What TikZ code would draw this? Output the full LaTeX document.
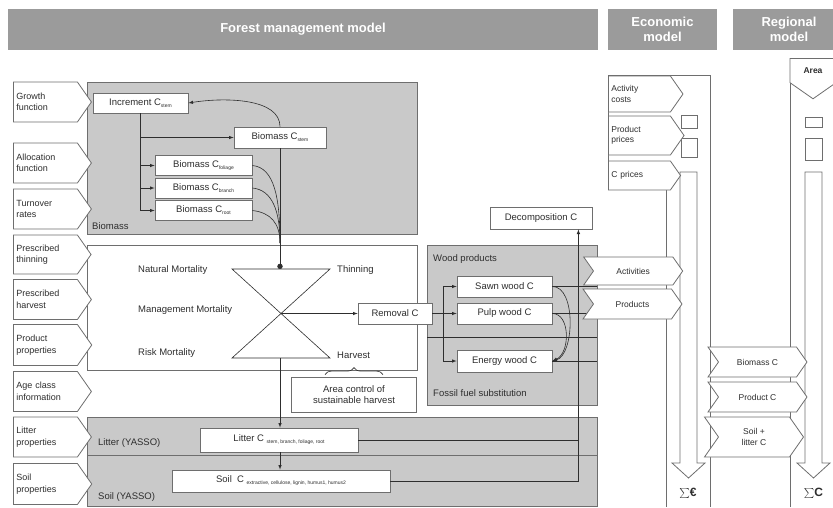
\documentclass[tikz,border=0pt]{standalone}
\usepackage{fontspec}
\setmainfont{Liberation Sans}
\usepackage{tikz}
\usetikzlibrary{shapes.symbols, arrows, positioning, calc, decorations.pathreplacing}

\definecolor{bargray}{HTML}{9B9B9B}
\definecolor{panelgray}{HTML}{C9C9C9}
\definecolor{rimgray}{HTML}{6E6E6E}
\definecolor{inkgray}{HTML}{2E2E2E}

\newcommand{\csub}[1]{\raisebox{-2pt}{\fontsize{5}{6}\selectfont #1}}

\tikzset{
  bar/.style={fill=bargray, text=white, font=\fontsize{13}{15}\selectfont\bfseries, align=center, inner sep=0pt},
  panel/.style={fill=panelgray, draw=rimgray, line width=0.8pt},
  cbox/.style={draw=rimgray, fill=white, line width=0.8pt, inner sep=2pt, text=inkgray, font=\fontsize{9.5}{11}\selectfont},
  inbox/.style={signal, signal to=east, signal pointer angle=110, draw=rimgray, fill=white, line width=0.8pt, text=inkgray, font=\fontsize{9}{11.5}\selectfont, align=left, inner sep=3pt},
  chev/.style={inbox, signal from=west, align=center},
  flow/.style={draw=inkgray, line width=0.6pt},
  tag/.style={text=inkgray, font=\fontsize{9.5}{11}\selectfont, inner sep=1pt},
}

\begin{document}
\begin{tikzpicture}[x=1pt, y=-1pt]
\useasboundingbox (0,0) rectangle (833,507);

% title bars
\node[bar, minimum width=590pt, minimum height=41pt] (fmm) at (303,29.5) {Forest management model};
\node[bar, minimum width=109pt, minimum height=41pt] (eco) at (662.5,29.5) {Economic\\model};
\node[bar, minimum width=112pt, minimum height=41pt] (reg) at (789,29.5) {Regional\\model};

% panels of the forest model
\draw[panel] (87,82) rectangle (417,234);
\node[tag, anchor=south west] (biolab) at (91,231) {Biomass};
\draw[draw=rimgray, fill=white, line width=0.8pt] (87,245) rectangle (417,370);
\draw[panel] (427,245) rectangle (597,405);
\draw[flow] (427,337) -- (597,337);
\node[tag, anchor=west] (woodlab) at (432,259) {Wood products};
\node[tag, anchor=west] (fosslab) at (432,393) {Fossil fuel substitution};
\draw[panel] (87,417) rectangle (597,455);
\draw[panel] (87,455) rectangle (597,506);
\node[tag, anchor=west] (litlab) at (97,443) {Litter (YASSO)};
\node[tag, anchor=west] (soillab) at (97,497) {Soil (YASSO)};

% inputs on the left
\node[inbox, anchor=west, text width=58pt, minimum height=40pt] (growth) at (13,102) {Growth\\function};
\node[inbox, anchor=west, text width=58pt, minimum height=40pt] (alloc) at (13,163) {Allocation\\function};
\node[inbox, anchor=west, text width=58pt, minimum height=40pt] (turn) at (13,209) {Turnover\\rates};
\node[inbox, anchor=west, text width=58pt, minimum height=39pt] (thin) at (13,254.5) {Prescribed\\thinning};
\node[inbox, anchor=west, text width=58pt, minimum height=40pt] (harv) at (13,299.5) {Prescribed\\harvest};
\node[inbox, anchor=west, text width=58pt, minimum height=41pt] (prodp) at (13,345) {Product\\properties};
\node[inbox, anchor=west, text width=58pt, minimum height=40pt] (age) at (13,391.5) {Age class\\information};
\node[inbox, anchor=west, text width=58pt, minimum height=40pt] (litp) at (13,437) {Litter\\properties};
\node[inbox, anchor=west, text width=58pt, minimum height=41pt] (soilp) at (13,484) {Soil\\properties};

% biomass boxes
\node[cbox, minimum width=95pt, minimum height=20pt] (incr) at (140.5,103) {Increment C\csub{stem}};
\node[cbox, minimum width=92pt, minimum height=21pt] (bstem) at (280,137.5) {Biomass C\csub{stem}};
\node[cbox, minimum width=97pt, minimum height=20pt] (bfol) at (203.5,165.5) {Biomass C\csub{foliage}};
\node[cbox, minimum width=97pt, minimum height=20pt] (bbra) at (203.5,188) {Biomass C\csub{branch}};
\node[cbox, minimum width=97pt, minimum height=20pt] (broot) at (203.5,210.5) {Biomass C\csub{root}};

% mortality hourglass
\coordinate (hgtl) at (232,269);
\coordinate (hgtr) at (330,269);
\coordinate (hgbl) at (232,358);
\coordinate (hgbr) at (330,358);
\coordinate (cross) at (281,313.5);
\coordinate (hgbot) at (280,358);
\draw[flow] (hgtl) -- (hgtr) -- (hgbl) -- (hgbr) -- cycle;
\node[tag, anchor=west] (natmort) at (137,270) {Natural Mortality};
\node[tag, anchor=west] (mgmtmort) at (137,310) {Management Mortality};
\node[tag, anchor=west] (riskmort) at (137,353) {Risk Mortality};
\node[tag, anchor=west] (thinlab) at (336,270) {Thinning};
\node[tag, anchor=west] (harvlab) at (336,355) {Harvest};

% removal and products
\node[cbox, minimum width=74pt, minimum height=21pt] (removal) at (395,313.5) {Removal C};
\node[cbox, minimum width=125pt, minimum height=35pt, align=center, font=\fontsize{9.5}{11.5}\selectfont] (areactl) at (354,394.5) {Area control of\\sustainable harvest};
\node[cbox, minimum width=95pt, minimum height=21pt] (sawn) at (504.5,286.5) {Sawn wood C};
\node[cbox, minimum width=95pt, minimum height=21pt] (pulp) at (504.5,313.5) {Pulp wood C};
\node[cbox, minimum width=95pt, minimum height=22pt] (energy) at (504.5,361) {Energy wood C};
\node[cbox, minimum width=102pt, minimum height=22pt] (decomp) at (541,218) {Decomposition C};

% litter and soil
\node[cbox, minimum width=158pt, minimum height=24pt] (litter) at (279,440) {Litter C\ \csub{stem, branch, foliage, root}};
\node[cbox, minimum width=218pt, minimum height=22pt] (soil) at (281,481) {Soil\ \ C\ \csub{extractive, cellulose, lignin, humus1, humus2}};

% flows in the biomass part
\draw[flow,-latex] (incr.south) |- (bstem.west);
\draw[flow,-latex] (incr.south) |- (bfol.west);
\draw[flow,-latex] (incr.south) |- (bbra.west);
\draw[flow,-latex] (incr.south) |- (broot.west);
\draw[flow,-latex] (bstem.north) .. controls +(0,-28) and +(38,-6) .. (incr.east);
\coordinate (merge) at (280,243);
\draw[flow] (bfol.east) .. controls +(22,2) and +(0,-45) .. (merge);
\draw[flow] (bbra.east) .. controls +(20,2) and +(0,-32) .. (merge);
\draw[flow] (broot.east) .. controls +(18,2) and +(0,-20) .. (merge);
\draw[flow,-*] (bstem.south) -- (hgtl -| bstem.south);

% flows to removal and wood products
\draw[flow,-latex] (cross) -- (removal.west);
\coordinate (split) at (443,313.5);
\draw[flow] (removal.east) -- (split);
\draw[flow,-latex] (split) |- (sawn.west);
\draw[flow,-latex] (split) -- (pulp.west);
\draw[flow,-latex] (split) |- (energy.west);
\draw[flow,-latex] (sawn.east) .. controls +(24,0) and +(22,-6) .. (energy.east);
\draw[flow,-latex] (pulp.east) .. controls +(18,0) and +(18,-8) .. (energy.east);
\coordinate (woodedge) at (597,0);
\draw[flow] (sawn.east) -- (sawn.east -| woodedge);
\draw[flow] (pulp.east) -- (pulp.east -| woodedge);
\draw[flow] (energy.east) -- (energy.east -| woodedge);
\draw[flow, decorate, decoration={brace, amplitude=7pt}] ($(areactl.north)+(-29,-2)$) -- ($(areactl.north)+(29,-2)$);

% flows to litter, soil and decomposition
\draw[flow,-latex] (hgbot) -- (hgbot |- litter.north);
\draw[flow,-latex] (hgbot |- litter.south) -- (hgbot |- soil.north);
\coordinate (decomcol) at ($(decomp.south east)+(-14,0)$);
\draw[flow] (litter.east) -- (litter.east -| decomcol);
\draw[flow,-latex] (soil.east) -| (decomcol);

% economic model column
\draw[rimgray, line width=0.8pt] (608,190) -- (608,75) -- (710,75) -- (710,507);
\draw[rimgray, line width=0.8pt] (666,190) -- (666,507);
\draw[rimgray, line width=0.8pt] (681,115) rectangle (697,128);
\draw[rimgray, line width=0.8pt] (681,138) rectangle (697,157);
\draw[rimgray, line width=0.8pt] (680,172) -- (697,172) -- (697,463) -- (705,463) -- (688.5,478) -- (672,463) -- (680,463) -- cycle;
\node[inbox, anchor=west, text width=56pt, minimum height=36pt, font=\fontsize{8.5}{10.5}\selectfont] (actcost) at (608,94) {Activity\\costs};
\node[inbox, anchor=west, text width=56pt, minimum height=39pt, font=\fontsize{8.5}{10.5}\selectfont] (prodpr) at (608,135.5) {Product\\prices};
\node[inbox, anchor=west, text width=56pt, minimum height=29pt, font=\fontsize{8.5}{10.5}\selectfont] (cprice) at (608,175.5) {C prices};
\node[chev, anchor=west, minimum width=99pt, minimum height=28pt, font=\fontsize{8.5}{10.5}\selectfont] (activ) at (593,271) {Activities};
\node[chev, anchor=west, minimum width=99pt, minimum height=30pt, font=\fontsize{8.5}{10.5}\selectfont] (prods) at (593,304) {Products};
\node[font=\fontsize{12}{14}\selectfont\bfseries, text=inkgray] (sumeur) at (688,493) {$\sum$€};

% regional model column
\draw[rimgray, line width=0.8pt] (790,507) -- (790,58) -- (836,58) -- (836,507);
\draw[rimgray, line width=0.8pt] (805,117) rectangle (822,127);
\draw[rimgray, line width=0.8pt] (805,138) rectangle (822,160);
\draw[rimgray, line width=0.8pt] (805,172) -- (822,172) -- (822,463) -- (830,463) -- (813.5,478) -- (797,463) -- (805,463) -- cycle;
\node[inbox, signal to=south, anchor=north, minimum width=46pt, minimum height=33pt, align=center, font=\fontsize{8.5}{10.5}\selectfont\bfseries] (areain) at (813,58) {Area};
\node[chev, anchor=west, minimum width=99pt, minimum height=30pt, font=\fontsize{8.5}{10.5}\selectfont] (biomc) at (718,362) {Biomass C};
\node[chev, anchor=west, minimum width=99pt, minimum height=30pt, font=\fontsize{8.5}{10.5}\selectfont] (prodc) at (718,397) {Product C};
\node[chev, anchor=west, minimum width=99pt, minimum height=40pt, font=\fontsize{8.5}{10.5}\selectfont] (slc) at (718,437) {Soil +\\litter C};
\node[font=\fontsize{12}{14}\selectfont\bfseries, text=inkgray] (sumc) at (813.5,493) {$\sum$C};

\end{tikzpicture}
\end{document}
